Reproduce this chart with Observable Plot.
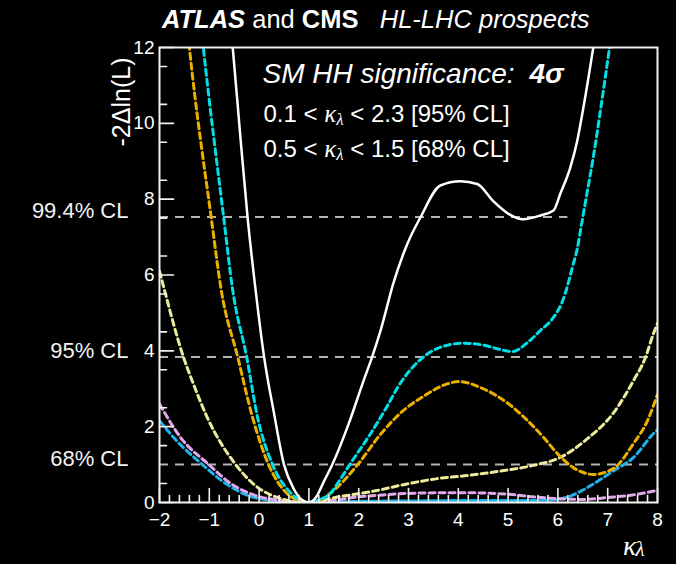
<!DOCTYPE html>
<html>
<head>
<meta charset="utf-8">
<script src="https://cdn.jsdelivr.net/npm/d3@7"></script>
<script src="https://cdn.jsdelivr.net/npm/@observablehq/plot@0.6"></script>
<style>
  html, body { margin: 0; padding: 0; background: #000; }
  body { width: 676px; height: 564px; overflow: hidden; font-family: "Liberation Sans", Arial, Helvetica, sans-serif; color: #fff; }
  #title { position: relative; height: 36px; font-size: 25.5px; white-space: pre; }
  #title .line { position: absolute; left: 162px; top: 4px; line-height: 30px; }
  #chart svg { display: block; }
</style>
</head>
<body>
<div id="title"><span class="line"><b><i>ATLAS</i></b> and <b>CMS</b>   <i>HL-LHC prospects</i></span></div>
<div id="chart"></div>
<script>
// Likelihood scans, -2ΔlnL versus κλ
const kappaCombined = [-0.6, -0.53, -0.38, -0.23, -0.07, 0.1, 0.3, 0.5, 0.7, 0.85, 1.0, 1.15, 1.3, 1.47, 1.8, 2.1, 2.27, 2.44, 2.7, 2.98, 3.24, 3.64, 4.04, 4.38, 4.7, 5.0, 5.3, 5.65, 5.91, 6.05, 6.25, 6.39, 6.51, 6.71, 6.78];
const nllCombined   = [12.9, 12.0, 9.7, 7.5, 5.6, 3.84, 2.35, 1.0, 0.35, 0.08, 0.0, 0.15, 0.55, 1.0, 2.08, 3.22, 3.84, 4.54, 5.8, 6.83, 7.52, 8.36, 8.47, 8.4, 7.95, 7.62, 7.47, 7.57, 7.7, 8.15, 8.84, 9.55, 10.4, 12.0, 12.6];

const kappaCyan = [-1.2, -1.12, -0.71, -0.53, -0.25, -0.03, 0.27, 0.6, 0.8, 1.0, 1.2, 1.43, 1.6, 1.82, 2.24, 2.58, 2.78, 3.3, 3.7, 4.1, 4.5, 4.8, 5.09, 5.39, 5.65, 5.91, 6.09, 6.19, 6.29, 6.39, 6.47, 6.59, 6.71, 6.85, 7.02, 7.1];
const nllCyan   = [13.0, 12.0, 7.5, 5.6, 3.84, 2.24, 1.0, 0.3, 0.08, 0.0, 0.07, 0.24, 0.55, 1.0, 1.82, 2.56, 3.03, 3.84, 4.12, 4.2, 4.15, 4.05, 3.98, 4.22, 4.54, 4.88, 5.3, 5.7, 6.2, 6.7, 7.3, 8.2, 9.1, 10.3, 11.85, 12.6];

const kappaOrange = [-1.47, -1.4, -0.96, -0.76, -0.43, -0.13, 0.19, 0.5, 0.8, 1.0, 1.2, 1.5, 1.98, 2.44, 2.9, 3.3, 3.78, 4.0, 4.5, 5.05, 5.39, 5.71, 5.99, 6.31, 6.71, 7.12, 7.52, 7.8, 8.0];
const nllOrange   = [12.9, 12.0, 7.5, 5.6, 3.84, 2.24, 1.0, 0.32, 0.05, 0.0, 0.05, 0.32, 1.0, 1.8, 2.43, 2.8, 3.13, 3.19, 3.0, 2.56, 2.16, 1.72, 1.29, 0.92, 0.74, 0.9, 1.56, 2.16, 2.85];

const kappaYellow = [-2.0, -1.94, -1.52, -1.32, -1.04, -0.47, -0.03, 0.4, 0.9, 1.23, 1.6, 2.04, 2.38, 2.9, 3.58, 4.18, 4.8, 5.51, 6.05, 6.6, 7.12, 7.52, 7.76, 7.92, 8.0];
const nllYellow   = [6.1, 5.8, 3.84, 3.13, 2.24, 1.0, 0.4, 0.12, 0.0, 0.05, 0.15, 0.24, 0.32, 0.47, 0.63, 0.71, 0.82, 0.98, 1.19, 1.69, 2.37, 3.22, 3.83, 4.46, 4.72];

const kappaPink = [-2.0, -1.58, -1.01, -0.57, -0.11, 0.4, 1.0, 1.5, 2.0, 2.5, 3.0, 4.0, 5.0, 5.5, 6.0, 6.5, 7.0, 7.5, 8.0];
const nllPink   = [2.6, 1.72, 1.0, 0.5, 0.2, 0.06, 0.0, 0.06, 0.15, 0.2, 0.24, 0.26, 0.22, 0.15, 0.1, 0.08, 0.13, 0.2, 0.32];

const kappaBlue = [-2.0, -1.72, -1.14, -0.67, -0.17, 0.4, 1.0, 2.0, 3.0, 4.0, 5.0, 5.8, 6.19, 6.6, 7.12, 7.52, 7.92, 8.0];
const nllBlue   = [2.16, 1.72, 1.0, 0.5, 0.16, 0.04, 0.0, 0.03, 0.04, 0.05, 0.05, 0.06, 0.14, 0.4, 0.84, 1.19, 1.82, 1.92];

// Confidence-level thresholds
const clNames = ["68% CL", "95% CL", "99.4% CL"];
const clValues = [1.0, 3.84, 7.53];
const clKappaMax = [8, 8, 6.2];

// Axis ticks
const xMajor = [-2, -1, 0, 1, 2, 3, 4, 5, 6, 7, 8];
const yMajor = [0, 2, 4, 6, 8, 10, 12];
const xMinor = d3.range(-10, 41).map(i => i / 5).filter(v => !Number.isInteger(v));
const yMinor = d3.range(0, 25).map(i => i / 2).filter(v => !Number.isInteger(v));

const rows = (kappa, nll) => kappa.map((k, i) => ({kappa: k, nll: nll[i]}));
const clRows = clNames.map((name, i) => ({name, value: clValues[i], kmax: clKappaMax[i]}));

const dashed = (data, stroke) => Plot.line(data, {
  x: "kappa", y: "nll", stroke, strokeWidth: 3, strokeDasharray: "6,4",
  curve: "monotone-x", clip: true
});

// a straight tick drawn from the anchor point in the vector's direction
const tickShape = {draw(context, l) { context.moveTo(0, 0); context.lineTo(0, -l); }};
const innerTicksX = (values, length) => Plot.vector(values, {x: d => d, y: 0, length, rotate: 0, anchor: "start", shape: tickShape, stroke: "#f2f2f2", strokeWidth: 1.6});
const innerTicksY = (values, length) => Plot.vector(values, {x: -2, y: d => d, length, rotate: 90, anchor: "start", shape: tickShape, stroke: "#f2f2f2", strokeWidth: 1.6});

const serif = "'Liberation Serif', 'DejaVu Serif', serif";

const chart = Plot.plot({
  width: 676,
  height: 528,
  marginLeft: 159,
  marginRight: 19,
  marginTop: 11,
  marginBottom: 62,
  style: {background: "#000", color: "#fff", fontFamily: "'Liberation Sans', Arial, sans-serif", fontSize: "19px"},
  x: {domain: [-2, 8], label: null},
  y: {domain: [0, 12], label: null},
  marks: [
    // CL reference lines
    Plot.ruleY(clRows, {y: "value", x1: -2, x2: "kmax", stroke: "#b4b4b4", strokeWidth: 2, strokeDasharray: "9,7"}),
    Plot.text(clRows, {x: -2, y: "value", text: "name", dx: -31, dy: -6, textAnchor: "end", lineAnchor: "middle", fontSize: 22, fill: "#f2f2f2"}),

    // individual scans
    dashed(rows(kappaBlue, nllBlue), "#1fb2ea"),
    dashed(rows(kappaPink, nllPink), "#e2a6ea"),
    dashed(rows(kappaYellow, nllYellow), "#ecec9c"),
    dashed(rows(kappaOrange, nllOrange), "#eab000"),
    dashed(rows(kappaCyan, nllCyan), "#00dfe6"),
    // combination
    Plot.line(rows(kappaCombined, nllCombined), {x: "kappa", y: "nll", stroke: "#ffffff", strokeWidth: 2.5, curve: "monotone-x", clip: true}),

    // inward ticks
    innerTicksY(yMajor, 14),
    innerTicksY(yMinor, 7),
    innerTicksX(xMajor, 14),
    innerTicksX(xMinor, 7),
    // tick labels
    Plot.axisY(yMajor, {tickSize: 0, tickPadding: 5, fontSize: 19, label: null}),
    Plot.axisX(xMajor, {tickSize: 0, tickPadding: 10, fontSize: 19, label: null}),

    Plot.frame({stroke: "#f2f2f2", strokeWidth: 2}),

    // axis titles
    Plot.text(["-2\u0394ln(L)"], {frameAnchor: "top-left", dx: -38, dy: 10, rotate: -90, textAnchor: "end", lineAnchor: "middle", fontSize: 25, fill: "#fff"}),
    Plot.text(["\u03ba"], {frameAnchor: "bottom-right", dx: -21, dy: 44, textAnchor: "end", lineAnchor: "middle", fontSize: 28, fontStyle: "italic", fontFamily: serif, fill: "#fff"}),
    Plot.text(["\u03bb"], {frameAnchor: "bottom-right", dx: -22, dy: 47, textAnchor: "start", lineAnchor: "middle", fontSize: 21, fontStyle: "italic", fontFamily: serif, fill: "#fff"}),

    // annotations
    Plot.text(["SM HH significance:"], {frameAnchor: "top-left", dx: 103, dy: 27, textAnchor: "start", lineAnchor: "middle", fontSize: 28, fontStyle: "italic", fill: "#fff"}),
    Plot.text(["4\u03c3"], {frameAnchor: "top-left", dx: 370, dy: 27, textAnchor: "start", lineAnchor: "middle", fontSize: 28, fontStyle: "italic", fontWeight: "bold", fill: "#fff"}),
    Plot.text(["0.1 < \u03ba\u03bb < 2.3 [95% CL]"], {frameAnchor: "top-left", dx: 104, dy: 67, textAnchor: "start", lineAnchor: "middle", fontSize: 24, fill: "#fff", className: "kl-range"}),
    Plot.text(["0.5 < \u03ba\u03bb < 1.5 [68% CL]"], {frameAnchor: "top-left", dx: 104, dy: 102, textAnchor: "start", lineAnchor: "middle", fontSize: 24, fill: "#fff", className: "kl-range"})
  ]
});

// render κλ inside the range labels as italic κ with a subscript λ
d3.select(chart).selectAll(".kl-range text").each(function () {
  const node = d3.select(this);
  const [before, after] = node.text().split("\u03ba\u03bb");
  node.text(null);
  node.append("tspan").text(before);
  node.append("tspan").attr("font-family", serif).attr("font-style", "italic").attr("font-size", 25).text("\u03ba");
  node.append("tspan").attr("font-family", serif).attr("font-style", "italic").attr("font-size", 17).attr("dy", 3).text("\u03bb");
  node.append("tspan").attr("dy", -3).text(after);
});

document.getElementById("chart").append(chart);
</script>
</body>
</html>
